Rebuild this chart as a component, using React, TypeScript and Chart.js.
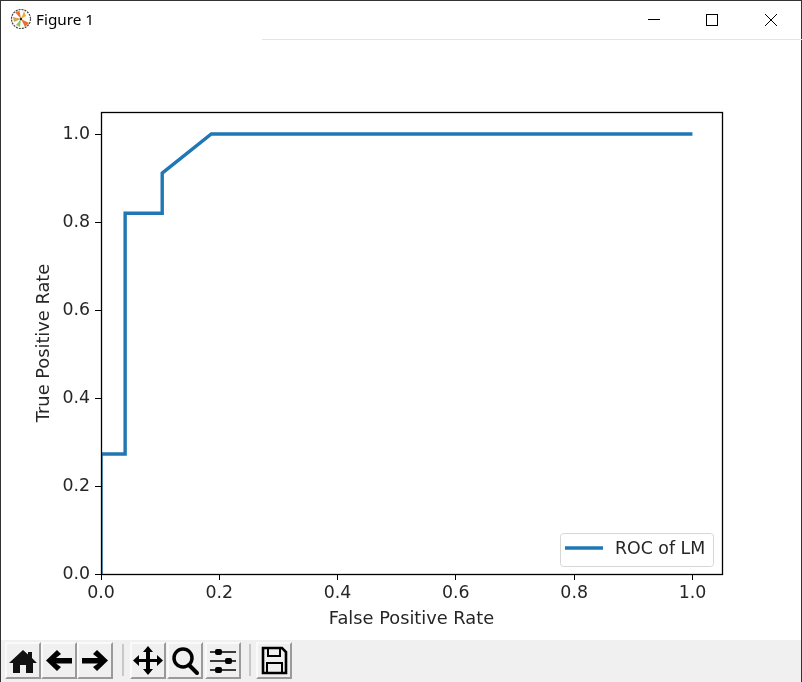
import React, { useEffect, useRef } from "react";
import { Chart, registerables } from "chart.js";

Chart.register(...registerables);

const seriesLabel = "ROC of LM";
const fpr = [0, 0, 0.0408, 0.0408, 0.1035, 0.1035, 0.1865, 1];
const tpr = [0, 0.2727, 0.2727, 0.82, 0.82, 0.911, 1, 1];
const axisTicks = [0, 0.2, 0.4, 0.6, 0.8, 1];
const xTitle = "False Positive Rate";
const yTitle = "True Positive Rate";

const FONT = "'DejaVu Sans'";
const INK = "#262626";
const BLUE = "#1f77b4";
const FONT_SIZE = 17.36;
const TITLE_SIZE = 17.8;

const framePlugin = {
  id: "frame",
  afterDraw(chart: any) {
    const { ctx, chartArea: a } = chart;
    ctx.save();
    ctx.strokeStyle = "#000";
    ctx.lineWidth = 1.3;
    ctx.strokeRect(a.left + 0.5, a.top + 0.5, a.right - a.left, a.bottom - a.top);
    const ds = chart.data.datasets[0];
    const w = 153, h = 33;
    const x = a.right - 162, y = a.bottom - 41;
    ctx.beginPath();
    ctx.roundRect(x + 0.5, y + 0.5, w, h, 3);
    ctx.fillStyle = "rgba(255,255,255,0.8)";
    ctx.fill();
    ctx.strokeStyle = "#d6d6d6";
    ctx.lineWidth = 1;
    ctx.stroke();
    ctx.beginPath();
    ctx.moveTo(x + 5, y + 15);
    ctx.lineTo(x + 43, y + 15);
    ctx.strokeStyle = ds.borderColor;
    ctx.lineWidth = ds.borderWidth;
    ctx.stroke();
    ctx.fillStyle = INK;
    ctx.font = `${FONT_SIZE}px ${FONT}`;
    ctx.textAlign = "left";
    ctx.textBaseline = "middle";
    ctx.fillText(ds.label, x + 55, y + 16);
    ctx.restore();
  },
};

function Btn({ left, children }: { left: number; children: React.ReactNode }) {
  return (
    <div
      style={{
        position: "absolute",
        left,
        top: 642,
        width: 36,
        height: 37,
        boxSizing: "border-box",
        background: "#f0f0f0",
        borderTop: "2px solid #fafafa",
        borderLeft: "2px solid #fafafa",
        borderRight: "2px solid #9a9a9a",
        borderBottom: "2px solid #9a9a9a",
      }}
    >
      <svg width={32} height={33} viewBox="0 0 32 33" style={{ display: "block" }}>
        {children}
      </svg>
    </div>
  );
}

export default function App() {
  const ref = useRef<HTMLCanvasElement | null>(null);

  useEffect(() => {
    document.body.style.margin = "0";
    document.body.style.background = "#fff";
    const tickFont = { family: FONT, size: FONT_SIZE };
    const titleFont = { family: FONT, size: TITLE_SIZE };
    const chart = new Chart(ref.current as HTMLCanvasElement, {
      type: "line",
      data: {
        datasets: [
          {
            label: seriesLabel,
            data: fpr.map((x, i) => ({ x, y: tpr[i] })),
            borderColor: BLUE,
            borderWidth: 3.4,
            pointRadius: 0,
            tension: 0,
            fill: false,
            borderJoinStyle: "miter",
          },
        ],
      },
      options: {
        responsive: false,
        animation: false,
        layout: { padding: { top: 112, right: 80, left: 0, bottom: 0 } },
        plugins: { legend: { display: false }, tooltip: { enabled: false } },
        scales: {
          x: {
            type: "linear",
            min: 0,
            max: 1.05,
            afterFit: (s: any) => { s.height = 108; },
            afterBuildTicks: (s: any) => { s.ticks = axisTicks.map((value) => ({ value })); },
            border: { color: "#000", width: 1 },
            grid: { drawOnChartArea: false, color: "#000", tickLength: 6 },
            ticks: {
              color: INK,
              font: tickFont,
              padding: 3,
              maxRotation: 0,
              callback: (v: any) => Number(v).toFixed(1),
            },
            title: {
              display: true,
              text: xTitle,
              color: INK,
              font: titleFont,
              padding: { top: 0, bottom: 52 },
            },
          },
          y: {
            type: "linear",
            min: 0,
            max: 1.05,
            afterFit: (s: any) => { s.width = 101; },
            afterBuildTicks: (s: any) => { s.ticks = axisTicks.map((value) => ({ value })); },
            border: { color: "#000", width: 1 },
            grid: { drawOnChartArea: false, color: "#000", tickLength: 6 },
            ticks: {
              color: INK,
              font: tickFont,
              padding: 5,
              callback: (v: any) => Number(v).toFixed(1),
            },
            title: {
              display: true,
              text: yTitle,
              color: INK,
              font: titleFont,
              padding: { top: 34, bottom: 0 },
            },
          },
        },
      },
      plugins: [framePlugin],
    } as any);
    return () => chart.destroy();
  }, []);

  return (
    <div style={{ position: "relative", width: 802, height: 682, overflow: "hidden", background: "#fff" }}>
      <canvas ref={ref} width={802} height={682} style={{ position: "absolute", left: 0, top: 0, display: "block" }} />

      {/* window frame */}
      <div style={{ position: "absolute", left: 0, top: 0, width: 802, height: 1, background: "#333" }} />
      <div style={{ position: "absolute", left: 0, top: 0, width: 1, height: 682, background: "#333" }} />
      <div style={{ position: "absolute", left: 801, top: 0, width: 1, height: 682, background: "#333" }} />
      <div style={{ position: "absolute", left: 262, top: 39, width: 540, height: 1, background: "#e5e5e5" }} />

      {/* title bar */}
      <svg width={22} height={22} viewBox="0 0 22 22" style={{ position: "absolute", left: 10, top: 8 }}>
        <circle cx={11} cy={11} r={9.5} fill="#fff" stroke="#444" strokeWidth={1.2} strokeDasharray="2 1" />
        <path d="M11 11 L5 4 L9.5 3 Z" fill="#e8702a" />
        <path d="M11 11 L19 15 L15 19 Z" fill="#e8702a" />
        <path d="M11 11 L14 3 L16 8 Z" fill="#e8b040" />
        <path d="M11 11 L10 19 L6 17 Z" fill="#8cc46a" />
        <path d="M11 11 L3 9 L4 14 Z" fill="#d8a050" />
        <circle cx={11} cy={11} r={1.2} fill="#222" />
      </svg>
      <div
        style={{
          position: "absolute",
          left: 36,
          top: 9,
          font: "15.3px/20px 'Noto Sans', sans-serif",
          color: "#000",
        }}
      >
        Figure 1
      </div>
      <svg width={160} height={20} viewBox="0 0 160 20" style={{ position: "absolute", left: 640, top: 10 }}>
        <path d="M8 9.5 H20" stroke="#000" strokeWidth={1} />
        <rect x={66.5} y={4.5} width={11} height={11} fill="none" stroke="#000" strokeWidth={1} />
        <path d="M125 4 L137 16 M137 4 L125 16" stroke="#000" strokeWidth={1} />
      </svg>

      {/* toolbar */}
      <div style={{ position: "absolute", left: 1, top: 640, width: 800, height: 42, background: "#f0f0f0" }} />
      <div style={{ position: "absolute", left: 122, top: 644, width: 2, height: 32, background: "#c8c8c8" }} />
      <div style={{ position: "absolute", left: 249, top: 644, width: 2, height: 32, background: "#c8c8c8" }} />

      <Btn left={5}>
        <path d="M16 6 L21 10.5 V8 H25 V14 L30 19 H26 V29 H19 V21 H13 V29 H6 V19 H2 Z" fill="#111" />
      </Btn>
      <Btn left={41}>
        <path d="M3 16.5 L14 6 L18 10 L13 14 H29 V19.5 H13 L18 23 L14 27 Z" fill="#000" />
      </Btn>
      <Btn left={77}>
        <path d="M29 16.5 L18 6 L14 10 L19 14 H3 V19.5 H19 L14 23 L18 27 Z" fill="#000" />
      </Btn>
      <Btn left={130}>
        <path d="M16 2 L21 8 H18 V15 H25 V11 L31 16.5 L25 22 V18 H18 V25 H21 L16 31 L11 25 H14 V18 H7 V22 L1 16.5 L7 11 V15 H14 V8 H11 Z" fill="#000" />
      </Btn>
      <Btn left={167}>
        <circle cx={14} cy={14} r={9} fill="none" stroke="#000" strokeWidth={3.5} />
        <path d="M20 21 L28 29" stroke="#000" strokeWidth={4} strokeLinecap="round" />
      </Btn>
      <Btn left={205}>
        <path d="M3 8 H29 M3 17 H29 M3 26 H29" stroke="#000" strokeWidth={1.6} />
        <rect x={8} y={5} width={7} height={6} rx={2} fill="#000" />
        <rect x={18} y={14} width={7} height={6} rx={2} fill="#000" />
        <rect x={8} y={23} width={7} height={6} rx={2} fill="#000" />
      </Btn>
      <Btn left={256}>
        <path d="M5 4 H24 L28 8 V29 H5 Z" fill="none" stroke="#000" strokeWidth={2.6} />
        <rect x={10} y={4} width={12} height={8} fill="none" stroke="#000" strokeWidth={2} />
        <rect x={9} y={19} width={15} height={10} fill="none" stroke="#000" strokeWidth={2} />
      </Btn>
    </div>
  );
}
